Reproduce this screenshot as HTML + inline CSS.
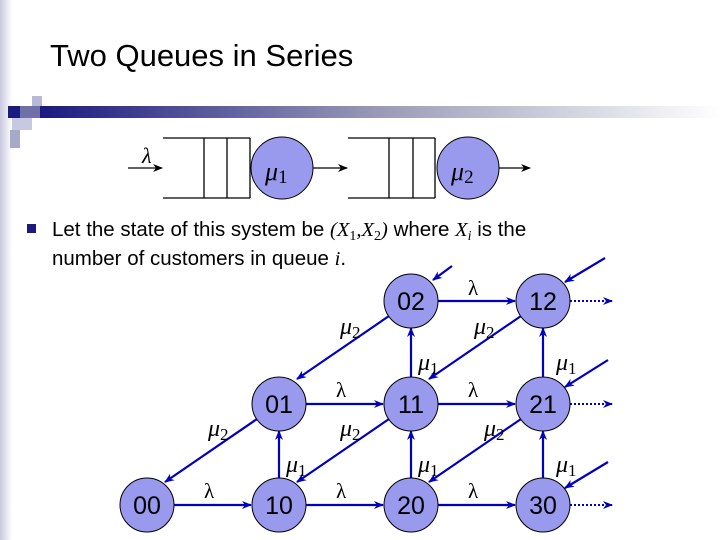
<!DOCTYPE html>
<html><head><style>
body{margin:0;width:720px;height:540px;overflow:hidden;background:#fff;font-family:"Liberation Sans",sans-serif;position:relative}
</style></head><body>
<svg width="720" height="540" viewBox="0 0 720 540" style="position:absolute;left:0;top:0">
<defs>
<linearGradient id="g" x1="0" x2="1"><stop offset="0" stop-color="#1a1a80"/><stop offset="0.5" stop-color="#9a9ab8"/><stop offset="1" stop-color="#fff"/></linearGradient>
<linearGradient id="s" x1="0" x2="1"><stop offset="0" stop-color="#c8c8e0"/><stop offset="1" stop-color="#fff"/></linearGradient>
<marker id="a" markerWidth="10" markerHeight="8" refX="9" refY="4" orient="auto" markerUnits="userSpaceOnUse"><path d="M0,0 L10,4 L0,8 L3,4z" fill="#0000c0"/></marker>
<marker id="k" markerWidth="10" markerHeight="8" refX="9" refY="4" orient="auto" markerUnits="userSpaceOnUse"><path d="M0,0 L10,4 L0,8 L3,4z" fill="#000"/></marker>
</defs>
<rect x="0" y="0" width="12" height="540" fill="url(#s)"/>
<rect x="40" y="106" width="680" height="12" fill="url(#g)"/>
<rect x="8" y="106" width="12" height="12" fill="#1a1a80"/>
<rect x="32" y="96" width="10" height="10" fill="#b8b8d8"/>
<rect x="20" y="106" width="20" height="12" fill="#7070a8"/>
<rect x="12" y="118" width="20" height="12" fill="#c8c8e0"/>
<rect x="10" y="130" width="10" height="18" fill="#a8a8c8"/>
<text x="50" y="66" font-size="31" fill="#000">Two Queues in Series</text>
<g stroke="#000" stroke-width="1.3" fill="none">
<path d="M163,138 H250 M163,198 H250 M204,138 V198 M227,138 V198 M250,138 V198"/>
<path d="M348,138 H435 M348,198 H435 M389,138 V198 M413,138 V198 M435,138 V198"/>
<line x1="128" y1="168" x2="162" y2="168" marker-end="url(#k)"/>
<line x1="313" y1="168" x2="347" y2="168" marker-end="url(#k)"/>
<line x1="499" y1="168" x2="530" y2="168" marker-end="url(#k)"/>
</g>
<circle cx="282" cy="168" r="31" fill="#9999ee" stroke="#000"/>
<circle cx="468" cy="168" r="31" fill="#9999ee" stroke="#000"/>
<g font-family="Liberation Serif,serif" font-style="italic" font-size="26">
<text x="142" y="163" font-size="22">λ</text>
<text x="265" y="180">μ<tspan font-size="19" dy="3" font-style="normal">1</tspan></text>
<text x="451" y="180">μ<tspan font-size="19" dy="3" font-style="normal">2</tspan></text>
</g>
<rect x="27" y="224" width="9" height="9" fill="#1a1a80"/>
<text x="52" y="236" font-size="20.5">Let the state of this system be <tspan font-family="Liberation Serif,serif" font-style="italic">(X</tspan><tspan font-family="Liberation Serif,serif" font-size="14" dy="4">1</tspan><tspan font-family="Liberation Serif,serif" font-style="italic" dy="-4">,X</tspan><tspan font-family="Liberation Serif,serif" font-size="14" dy="4">2</tspan><tspan font-family="Liberation Serif,serif" font-style="italic" dy="-4">)</tspan> where <tspan font-family="Liberation Serif,serif" font-style="italic">X</tspan><tspan font-family="Liberation Serif,serif" font-style="italic" font-size="14" dy="4">i</tspan><tspan dy="-4"> is the</tspan></text>
<text x="52" y="265" font-size="20.5">number of customers in queue <tspan font-family="Liberation Serif,serif" font-style="italic">i</tspan>.</text>
<g stroke="#0000c0" stroke-width="2.2" fill="none" marker-end="url(#a)">
<line x1="174" y1="505" x2="251" y2="505"/>
<line x1="306" y1="505" x2="383" y2="505"/>
<line x1="438" y1="505" x2="515" y2="505"/>
<line x1="306" y1="404" x2="383" y2="404"/>
<line x1="438" y1="404" x2="515" y2="404"/>
<line x1="438" y1="301" x2="515" y2="301"/>
<line x1="279" y1="480" x2="279" y2="431"/>
<line x1="411" y1="480" x2="411" y2="431"/>
<line x1="543" y1="480" x2="543" y2="431"/>
<line x1="411" y1="378" x2="411" y2="328"/>
<line x1="543" y1="378" x2="543" y2="328"/>
<line x1="257" y1="419" x2="165" y2="482"/>
<line x1="389" y1="419" x2="297" y2="482"/>
<line x1="521" y1="419" x2="429" y2="482"/>
<line x1="389" y1="316" x2="297" y2="379"/>
<line x1="521" y1="316" x2="429" y2="379"/>
<line x1="452" y1="266" x2="433" y2="280"/>
<line x1="605" y1="258" x2="565" y2="282"/>
<line x1="608" y1="360" x2="565" y2="387"/>
<line x1="608" y1="462" x2="565" y2="488"/>
</g>
<g stroke="#0000c0" stroke-width="2" stroke-dasharray="2,2" fill="none" marker-end="url(#a)">
<line x1="570" y1="301" x2="612" y2="301"/>
<line x1="570" y1="404" x2="612" y2="404"/>
<line x1="570" y1="505" x2="612" y2="505"/>
</g>
<g fill="#9999ee" stroke="#000" stroke-width="1">
<circle cx="147" cy="505" r="27"/><circle cx="279" cy="505" r="27"/><circle cx="411" cy="505" r="27"/><circle cx="543" cy="505" r="27"/>
<circle cx="279" cy="404" r="27"/><circle cx="411" cy="404" r="27"/><circle cx="543" cy="404" r="27"/>
<circle cx="411" cy="301" r="27"/><circle cx="543" cy="301" r="27"/>
</g>
<g font-size="25" text-anchor="middle" fill="#000">
<text x="147" y="514">00</text><text x="279" y="514">10</text><text x="411" y="514">20</text><text x="543" y="514">30</text>
<text x="279" y="413">01</text><text x="411" y="413">11</text><text x="543" y="413">21</text>
<text x="411" y="310">02</text><text x="543" y="310">12</text>
</g>
<g font-family="Liberation Serif,serif" font-size="21" fill="#000">
<text x="204" y="498">λ</text><text x="336" y="498">λ</text><text x="468" y="498">λ</text>
<text x="336" y="397">λ</text><text x="468" y="397">λ</text><text x="468" y="295">λ</text>
</g>
<g font-family="Liberation Serif,serif" font-style="italic" font-size="24" fill="#000">
<text x="286" y="472">μ<tspan font-size="17" dy="4" font-style="normal">1</tspan></text>
<text x="418" y="472">μ<tspan font-size="17" dy="4" font-style="normal">1</tspan></text>
<text x="556" y="472">μ<tspan font-size="17" dy="4" font-style="normal">1</tspan></text>
<text x="418" y="370">μ<tspan font-size="17" dy="4" font-style="normal">1</tspan></text>
<text x="556" y="370">μ<tspan font-size="17" dy="4" font-style="normal">1</tspan></text>
<text x="208" y="436">μ<tspan font-size="17" dy="4" font-style="normal">2</tspan></text>
<text x="340" y="436">μ<tspan font-size="17" dy="4" font-style="normal">2</tspan></text>
<text x="484" y="436">μ<tspan font-size="17" dy="4" font-style="normal">2</tspan></text>
<text x="340" y="334">μ<tspan font-size="17" dy="4" font-style="normal">2</tspan></text>
<text x="474" y="334">μ<tspan font-size="17" dy="4" font-style="normal">2</tspan></text>
</g>
</svg>
</body></html>
